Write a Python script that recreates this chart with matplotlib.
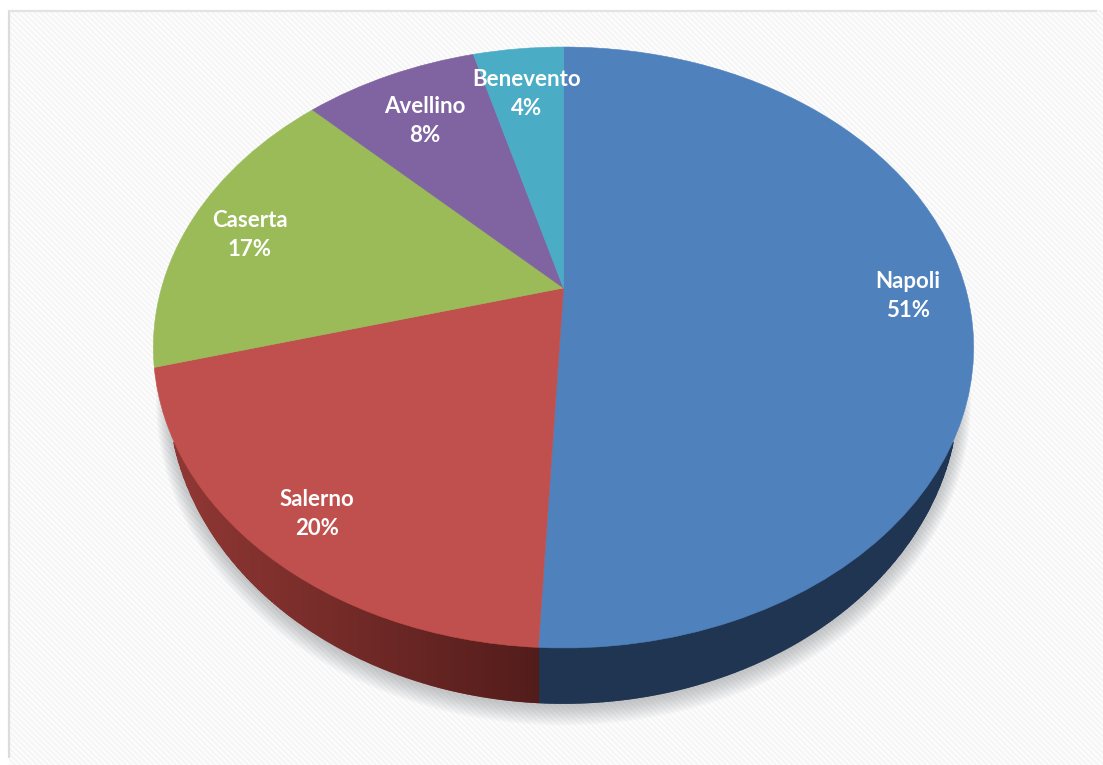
import numpy as np
import matplotlib
matplotlib.use("Agg")
import matplotlib.pyplot as plt
from matplotlib.patches import Rectangle, Ellipse, Polygon
from matplotlib.transforms import Transform

# Data
categories = ["Napoli", "Salerno", "Caserta", "Avellino", "Benevento"]
shares = [50.8, 20.0, 16.6, 8.3, 4.3]
percent_labels = [51, 20, 17, 8, 4]
colors = ["#4f81bd", "#c0504d", "#9bbb59", "#8064a2", "#4bacc6"]
label_xy = [(908, 296), (317, 514), (250, 235), (425, 121), (527, 94)]

CX, CY, A, B, K = 563.5, 288.0, 402.0, 288.7, 0.198
BOT_A, BOT_YC, BOT_B = 395.0, 390.0, 313.0


class Perspective(Transform):
    input_dims = output_dims = 2
    is_separable = False
    has_inverse = False

    def transform_non_affine(self, values):
        v = np.asarray(values, float)
        w = 1 + K * v[:, 1]
        return np.column_stack([CX + A * v[:, 0] / w, CY - B * v[:, 1] / w])


plt.rcParams["hatch.linewidth"] = 0.9
plt.rcParams["hatch.color"] = "#f3f3f3"
fig = plt.figure(figsize=(11.03, 7.65), dpi=100, facecolor="white")
ax = fig.add_axes([0, 0, 1, 1])

wedges, _ = ax.pie(shares, colors=colors, startangle=90, counterclock=False,
                   radius=1, wedgeprops=dict(linewidth=0.4, zorder=5))
for wedge, col in zip(wedges, colors):
    wedge.set_edgecolor(col)
ax.set_aspect("auto")
ax.set_xlim(0, 1103)
ax.set_ylim(765, 0)
ax.set_axis_off()

persp = Perspective()
for wedge in wedges:
    wedge.set_transform(persp + ax.transData)

# Background
ax.add_patch(Rectangle((9, 10), 1094, 755, facecolor="#fcfcfc", hatch="\\\\\\\\\\\\",
                       edgecolor="#f3f3f3", linewidth=0, zorder=0))
ax.plot([9, 9], [10, 758], color="#dcdcdc", lw=1.6, zorder=0.5, solid_capstyle="butt")
ax.plot([9, 1097], [11, 11], color="#e3e3e3", lw=1.6, zorder=0.5, solid_capstyle="butt")

# Soft shadow under the rim
for i in range(14, 0, -1):
    ax.add_patch(Ellipse((CX, BOT_YC + 2 + i * 0.55), 2 * (BOT_A + i * 0.9), 2 * (BOT_B + i * 0.9),
                         facecolor="#6f7378", edgecolor="none", alpha=0.03, zorder=1))


def side_color(x, idx):
    if idx == 1:  # Salerno rim gets darker toward the centre
        t = np.clip((x - 190) / (541 - 190), 0, 1)
        c0, c1 = np.array([0x8e, 0x36, 0x33]), np.array([0x52, 0x1c, 0x1a])
        return (c0 + (c1 - c0) * t) / 255
    return np.array([0x1f, 0x35, 0x52]) / 255


# Rim: vertical quads between the top edge of each slice and the bottom ellipse
for idx, wedge in enumerate(wedges):
    th = np.radians(np.arange(wedge.theta1, wedge.theta2 + 0.25, 0.25))
    th = np.append(th, np.radians(wedge.theta2))
    pts = persp.transform_non_affine(np.column_stack([np.cos(th), np.sin(th)]))
    for (x0, y0), (x1, y1) in zip(pts[:-1], pts[1:]):
        u0 = (x0 - CX) / BOT_A
        u1 = (x1 - CX) / BOT_A
        if min(y0, y1) < 380 or max(abs(u0), abs(u1)) >= 1:
            continue
        b0 = BOT_YC + BOT_B * np.sqrt(1 - u0 ** 2)
        b1 = BOT_YC + BOT_B * np.sqrt(1 - u1 ** 2)
        if b0 <= y0 or b1 <= y1:
            continue
        c = side_color((x0 + x1) / 2, idx)
        ax.add_patch(Polygon([(x0, y0), (x1, y1), (x1, b1), (x0, b0)], closed=True,
                             facecolor=c, edgecolor=c, linewidth=1.2, zorder=3))

# Labels
for name, pct, (lx, ly) in zip(categories, percent_labels, label_xy):
    ax.text(lx, ly, f"{name}\n{pct}%", color="white", ha="center", va="center",
            fontsize=16, fontweight="bold", family="Lato", linespacing=1.45, zorder=8)

fig.savefig("out.png", dpi=100, facecolor="white")
